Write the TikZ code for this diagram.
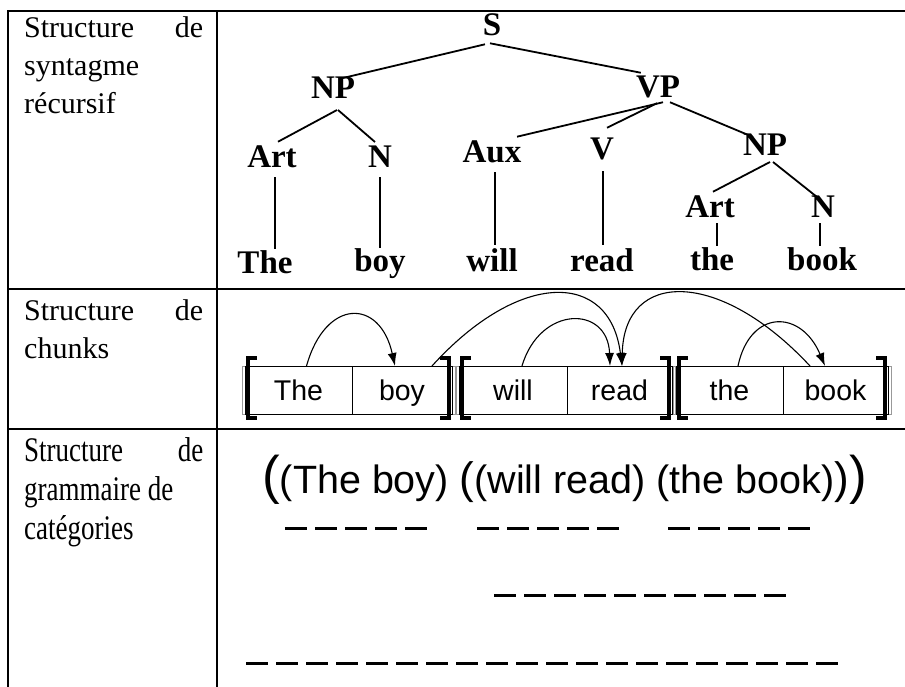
\documentclass[tikz,border=0pt]{standalone}
\usepackage{fontspec}
\setmainfont{Liberation Serif}
\setsansfont{Liberation Sans}
\usetikzlibrary{positioning,arrows.meta,fit,backgrounds}

\newcommand{\outerpar}[1]{{\fontsize{53}{53}\selectfont #1}}
\newcommand{\midpar}[1]{{\fontsize{44}{44}\selectfont #1}}

\begin{document}
\begin{tikzpicture}[
    x=1pt, y=-1pt,
    node distance=0pt,
    rule/.style={line width=2pt},
    rowlabel/.style={anchor=north west, inner sep=0pt, text width=179pt, align=left, font=\fontsize{30}{38}\selectfont},
    cat/.style={inner sep=0pt, font=\fontsize{33}{33}\selectfont\bfseries},
    word/.style={inner sep=0pt, anchor=base, font=\fontsize{33}{33}\selectfont\bfseries},
    branch/.style={line width=1.8pt},
    cell/.style={rectangle, draw=black, line width=0.9pt, outer sep=0pt, inner sep=0pt, minimum height=48pt, text height=26pt, text depth=6pt, font=\sffamily\fontsize{28.5}{28.5}\selectfont},
    chunk/.style={rectangle, draw=black!40, line width=0.9pt, inner xsep=3pt, inner ysep=0pt},
    bracket/.style={line width=4pt, line cap=butt, line join=miter},
    dep/.style={-{Latex[length=13pt,width=9pt]}, line width=1.1pt},
    underline/.style={line width=3pt, dash pattern=on 22pt off 8pt}
]
\useasboundingbox (0,0) rectangle (905,687);

% Table rules
\draw[rule] (905,11) -- (8,11) -- (8,687);
\draw[rule] (217,11) -- (217,687);
\draw[rule] (8,289) -- (905,289);
\draw[rule] (8,429) -- (905,429);

% Row labels
\node (lab1) [rowlabel] at (24,16) {Structure\hfill de\\syntagme\\récursif};
\node (lab2) [rowlabel] at (24,299) {Structure\hfill de\\chunks};
\node (lab3) [anchor=north west, inner sep=0pt] at (24,437) {\scalebox{0.9}[1.15]{\parbox[t]{199pt}{\fontsize{30}{34}\selectfont Structure\hfill de\\grammaire de\\catégories}}};

% Tree
\node (S) [cat] at (492,25) {S};
\node (NPa) [cat] at (333,88) {NP};
\node (VP) [cat] at (658,87) {VP};
\node (Arta) [cat] at (272,157) {Art};
\node (Na) [cat] at (380,157) {N};
\node (Aux) [cat] at (492,152) {Aux};
\node (V) [cat] at (602,149) {V};
\node (NPb) [cat] at (765,145) {NP};
\node (Artb) [cat] at (710,207) {Art};
\node (Nb) [cat] at (823,207) {N};

\node (wThe) [word] at (265,273) {The};
\node (wboy) [word] at (380,272) {boy};
\node (wwill) [word] at (492,271) {will};
\node (wread) [word] at (602,271) {read};
\node (wthe) [word] at (712,270) {the};
\node (wbook) [word] at (822,270) {book};

\draw[branch] ([shift={(-7,8)}]S.south) -- ([shift={(10,1)}]NPa.north);
\draw[branch] ([shift={(-2,7)}]S.south) -- ([shift={(5,-3)}]VP.north west);
\draw[branch] ([shift={(4,11)}]NPa.south) -- ([shift={(6,-4)}]Arta.north);
\draw[branch] ([shift={(5,11)}]NPa.south) -- ([shift={(-5,-4)}]Na.north);
\draw[branch] ([shift={(5,4)}]VP.south) -- ([shift={(-4.5,-4)}]Aux.north east);
\draw[branch] ([shift={(-1,5)}]VP.south) -- ([shift={(5,-10)}]V.north);
\draw[branch] ([shift={(12,4)}]VP.south) -- ([shift={(-12,3)}]NPb.north);
\draw[branch] ([shift={(5,6)}]NPb.south) -- ([shift={(3,-4)}]Artb.north);
\draw[branch] ([shift={(8,6)}]NPb.south) -- ([shift={(-6,1)}]Nb.north);
\draw[branch] ([shift={(3,9)}]Arta.south) -- ([shift={(3,-1)}]Arta.south |- wThe.north);
\draw[branch] ([shift={(0,9)}]Na.south) -- ([shift={(0,-1)}]Na.south |- wboy.north);
\draw[branch] ([shift={(3,9)}]Aux.south) -- ([shift={(3,-3)}]Aux.south |- wwill.north);
\draw[branch] ([shift={(1,11)}]V.south) -- ([shift={(1,-3)}]V.south |- wread.north);
\draw[branch] ([shift={(7,5)}]Artb.south) -- ([shift={(7,-1)}]Artb.south |- wthe.north);
\draw[branch] ([shift={(-3,5)}]Nb.south) -- ([shift={(-3,-1)}]Nb.south |- wbook.north);

% Chunks
\node (cThe) [cell, minimum width=107pt] at (298.5,390) {The};
\node (cboy) [cell, minimum width=100pt, right=of cThe] {boy};
\node (cwill) [cell, minimum width=108pt, right=7pt of cboy] {will};
\node (cread) [cell, minimum width=105pt, right=of cwill] {read};
\node (cthe) [cell, minimum width=107pt, right=4pt of cread] {the};
\node (cbook) [cell, minimum width=105pt, right=of cthe] {book};

\begin{scope}[on background layer]
\node (g1) [chunk, fit=(cThe)(cboy)] {};
\node (g2) [chunk, fit=(cwill)(cread)] {};
\node (g3) [chunk, fit=(cthe)(cbook)] {};
\end{scope}

\foreach \l/\r in {cThe/cboy, cwill/cread, cthe/cbook} {
  \draw[bracket] ([shift={(12,-8)}]\l.north west) -- ([shift={(3,-8)}]\l.north west) -- ([shift={(3,4)}]\l.south west) -- ([shift={(12,4)}]\l.south west);
  \draw[bracket] ([shift={(-12,-8)}]\r.north east) -- ([shift={(-3,-8)}]\r.north east) -- ([shift={(-3,4)}]\r.south east) -- ([shift={(-12,4)}]\r.south east);
}

% Dependencies
\draw[dep] ([shift={(8,0)}]cThe.north) .. controls +(19,-68) and +(-15,-68) .. ([shift={(-7,0)}]cboy.north);
\draw[dep] ([shift={(30,0)}]cboy.north) .. controls +(87,-96) and +(-12,-96) .. ([shift={(2.5,0)}]cread.north);
\draw[dep] ([shift={(9,0)}]cwill.north) .. controls +(18,-61) and +(-2,-61) .. ([shift={(-9.5,0)}]cread.north);
\draw[dep] ([shift={(-25.5,0)}]cbook.north) .. controls +(-90,-97) and +(2,-97) .. ([shift={(2.5,0)}]cread.north);
\draw[dep] ([shift={(8.5,0)}]cthe.north) .. controls +(12,-57) and +(-24,-57) .. ([shift={(-10.5,0)}]cbook.north);

% Categorial grammar
\node (bracketing) [anchor=base west, inner sep=0pt, font=\sffamily\fontsize{39.5}{40}\selectfont] at (262,493) {\outerpar{(}(The boy) \midpar{(}(will read) (the book)\midpar{)}\outerpar{)}};

\draw[underline] (285,528) -- (427,528);
\draw[underline] (477,528) -- (619,528);
\draw[underline] (668,528) -- (810,528);
\draw[underline] (494,595) -- (786,595);
\draw[underline] (246,663) -- (838,663);

\end{tikzpicture}
\end{document}
